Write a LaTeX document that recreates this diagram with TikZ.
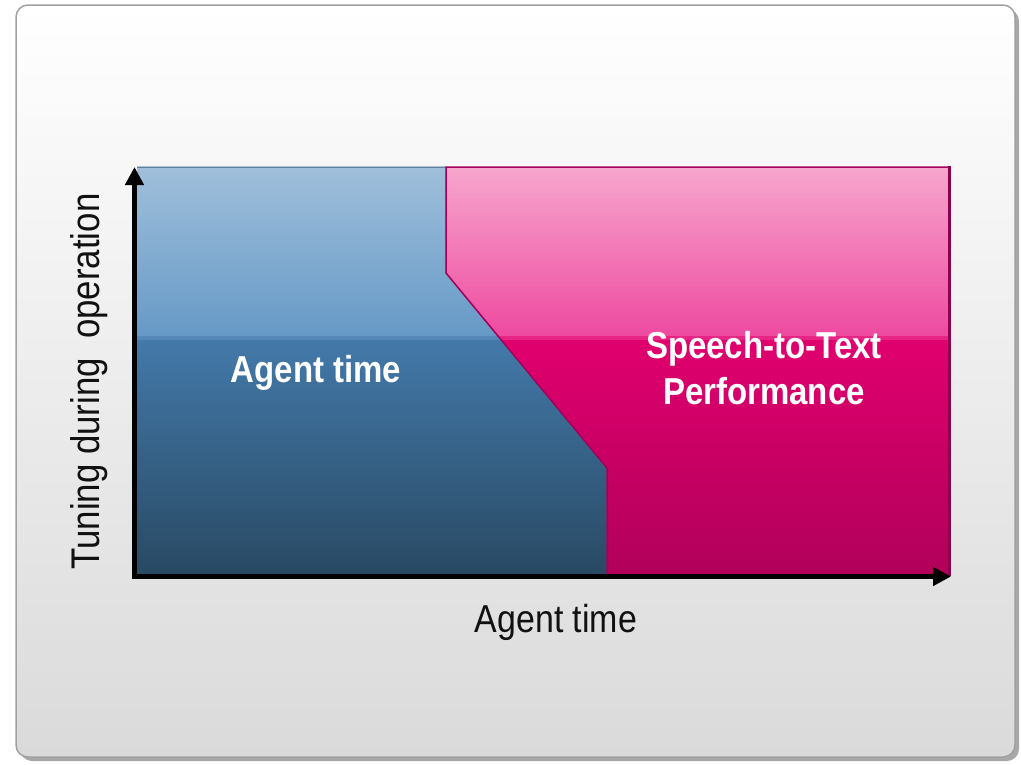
\documentclass[tikz,border=0pt]{standalone}
\usepackage{fontspec}
\setmainfont{Liberation Sans}[FakeStretch=0.87]
\newfontfamily\boldlab{Liberation Sans Bold}[FakeStretch=0.88]
\usetikzlibrary{arrows.meta}
\definecolor{frameline}{HTML}{A0A0A0}
\definecolor{frameshadow}{HTML}{A8A8A8}
\definecolor{bgtop}{HTML}{FFFFFF}
\definecolor{bgbot}{HTML}{DADADA}
\definecolor{blueA}{HTML}{A2C1DC}
\definecolor{blueB}{HTML}{6699C6}
\definecolor{blueM}{HTML}{5588B8}
\definecolor{blueC}{HTML}{4379A9}
\definecolor{blueD}{HTML}{284862}
\definecolor{blueEdge}{HTML}{3B6185}
\definecolor{pinkA}{HTML}{F7AACF}
\definecolor{pinkB}{HTML}{EE4AA0}
\definecolor{pinkM}{HTML}{E62585}
\definecolor{pinkC}{HTML}{E0006E}
\definecolor{pinkD}{HTML}{B0005A}
\definecolor{pinkEdge}{HTML}{A5005A}
\definecolor{pinkShadow}{HTML}{8C004C}
\definecolor{labgray}{HTML}{111111}
\tikzset{
  axislabel/.style={text=labgray, inner sep=0pt, font=\fontsize{39}{46}\selectfont},
  arealabel/.style={text=white, inner sep=0pt, align=center, font=\boldlab\fontsize{37.5}{46}\selectfont},
  axisline/.style={line width=5pt, line join=miter, {Triangle[length=18pt,width=18pt]}-{Triangle[length=18pt,width=18pt]}}
}
\begin{document}
\begin{tikzpicture}[x=1pt,y=-1pt]
\useasboundingbox (0,0) rectangle (1021,764);
% frame
\fill[frameshadow,rounded corners=12pt] (20,9) rectangle (1019,761);
\shade[top color=bgtop,bottom color=bgbot,draw=frameline,line width=1.5pt,rounded corners=12pt] (16,5) rectangle (1015,757);
% blue region
\begin{scope}
\clip (137,167) -- (446,167) -- (446,273) -- (607,468) -- (607,576) -- (137,576) -- cycle;
\shade[top color=blueA,bottom color=blueB] (130,160) rectangle (620,336);
\fill[blueM] (130,336) rectangle (620,340);
\shade[top color=blueC,bottom color=blueD] (130,340) rectangle (620,580);
\end{scope}
\draw[blueEdge,line width=1pt,line join=miter] (137,167) -- (446,167) -- (446,273) -- (607,468) -- (607,576);
% pink region
\begin{scope}
\clip (446,167) -- (950,167) -- (950,576) -- (607,576) -- (607,468) -- (446,273) -- cycle;
\shade[top color=pinkA,bottom color=pinkB] (440,160) rectangle (960,336);
\fill[pinkM] (440,336) rectangle (960,340);
\shade[top color=pinkC,bottom color=pinkD] (440,340) rectangle (960,580);
\end{scope}
\draw[pinkEdge,line width=1.5pt,line join=miter] (607,576) -- (607,468) -- (446,273) -- (446,167) -- (950,167);
\draw[pinkShadow,line width=3pt] (949.5,166) -- (949.5,576);
% axes
\coordinate (O) at (134.5,576.5);
\coordinate (ytip) at (134.5,167);
\coordinate (xtip) at (951,576.5);
\draw[axisline] (ytip) -- (O) -- (xtip);
% labels
\node[arealabel,anchor=base] (agentin) at (316,382) {Agent time};
\node[arealabel,anchor=base] (stt1) at (764,358) {Speech-to-Text};
\node[arealabel,anchor=base] (stt2) at (764,404) {Performance};
\node[axislabel,anchor=base] (xlab) at (556,632) {Agent time};
\node[axislabel,anchor=base,rotate=90,font=\fontsize{40}{46}\selectfont] (ylab) at (99.5,381.5) {Tuning during\ \ operation};
\end{tikzpicture}
\end{document}
